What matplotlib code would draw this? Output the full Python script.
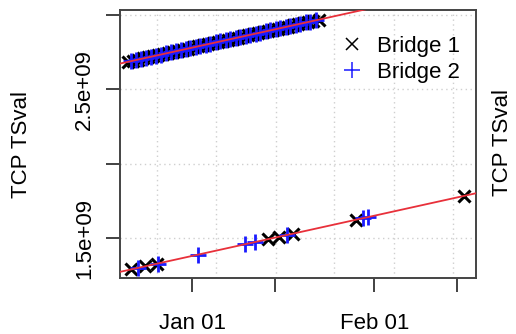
import datetime as dt
import matplotlib
matplotlib.use("Agg")
import matplotlib.pyplot as plt
import matplotlib.dates as mdates
from matplotlib.lines import Line2D
import numpy as np

plt.rcParams['font.family'] = ['Liberation Sans', 'DejaVu Sans']

# Capture start; times are given as days since this date
base = dt.datetime(2014, 1, 1)

# Bridge 1 / Bridge 2, first (dense) capture window: day offset, TSval (x1e9)
b1_upper_day = [-10.9, -10.1, -9.2, -8.4, -7.5, -6.7, -5.8, -5.0, -4.1, -3.3,
                -2.4, -1.6, -0.7, 0.2, 1.0, 1.9, 2.7, 3.6, 4.4, 5.3, 6.1, 7.0,
                7.8, 8.7, 9.5, 10.4, 11.2, 12.1, 12.9, 13.8, 14.6, 15.5, 16.3,
                17.2, 18.0, 18.9, 19.7, 20.6, 21.5]
b1_upper_ts = [2.686, 2.693, 2.701, 2.708, 2.716, 2.723, 2.730, 2.737, 2.745,
               2.752, 2.760, 2.767, 2.775, 2.783, 2.790, 2.798, 2.805, 2.812,
               2.819, 2.827, 2.834, 2.842, 2.849, 2.857, 2.864, 2.872, 2.879,
               2.887, 2.894, 2.901, 2.908, 2.916, 2.923, 2.931, 2.938, 2.946,
               2.953, 2.961, 2.969]
b2_upper_day = [-10.5, -9.6, -8.8, -7.9, -7.1, -6.2, -5.4, -4.5, -3.7, -2.8,
                -2.0, -1.1, -0.3, 0.6, 1.4, 2.3, 3.1, 4.0, 4.8, 5.7, 6.5, 7.4,
                8.2, 9.1, 9.9, 10.8, 11.6, 12.5, 13.3, 14.2, 15.0, 15.9, 16.7,
                17.6, 18.4, 19.3, 20.1, 21.0]
b2_upper_ts = [2.689, 2.697, 2.704, 2.712, 2.719, 2.727, 2.734, 2.742, 2.749,
               2.757, 2.764, 2.771, 2.778, 2.786, 2.793, 2.801, 2.808, 2.816,
               2.823, 2.831, 2.838, 2.846, 2.853, 2.860, 2.867, 2.875, 2.882,
               2.890, 2.897, 2.905, 2.912, 2.920, 2.927, 2.935, 2.942, 2.950,
               2.956, 2.964]

# Second (sparse) capture series
b1_lower_day = [-10.4, -8.0, -6.0, 12.9, 14.8, 17.2, 27.8, 46.2]
b1_lower_ts = [1.289, 1.310, 1.328, 1.493, 1.509, 1.530, 1.623, 1.783]
b2_lower_day = [-9.2, -5.9, 1.0, 9.0, 10.7, 16.2, 29.1, 30.0]
b2_lower_ts = [1.300, 1.329, 1.389, 1.459, 1.473, 1.521, 1.634, 1.642]

x_tick_dates = ["2014-01-01", "2014-01-15", "2014-02-01", "2014-02-15"]
x_tick_labels = ["Jan 01", "", "Feb 01", ""]
y_ticks = [1.5e9, 2.0e9, 2.5e9, 3.0e9]
y_tick_labels = ["1.5e+09", "", "2.5e+09", ""]
grid_days = [-6.0, 4.1, 14.2, 24.2, 34.3, 44.4]


def to_dates(days):
    return [base + dt.timedelta(days=d) for d in days]


def to_vals(ts):
    return np.array(ts) * 1e9


W, H = 516, 334
fig = plt.figure(figsize=(W / 100, H / 100), dpi=100)
ax = fig.add_axes([120 / W, 1 - 278 / H, 356 / W, 268 / H])

xmin = base + dt.timedelta(days=-12.3)
xmax = base + dt.timedelta(days=48.3)
ax.set_xlim(xmin, xmax)
ax.set_ylim(1.2315e9, 3.034e9)

# dotted grid
for g in to_dates(grid_days):
    ax.axvline(g, color="#cfcfcf", lw=1.0, ls=(0, (1, 2.5)), zorder=0)
for yv in y_ticks:
    ax.axhline(yv, color="#cfcfcf", lw=1.0, ls=(0, (1, 2.5)), zorder=0)

mk1 = dict(ls="none", marker="x", color="black", ms=9, mew=2.2)
mk2 = dict(ls="none", marker="+", color="#1a1aff", ms=11, mew=2.0)

ax.plot(to_dates(b1_upper_day), to_vals(b1_upper_ts), **mk1)
ax.plot(to_dates(b1_lower_day), to_vals(b1_lower_ts), **mk1)
ax.plot(to_dates(b2_upper_day), to_vals(b2_upper_ts), **mk2)
ax.plot(to_dates(b2_lower_day), to_vals(b2_lower_ts), **mk2)

# linear clock fits spanning the full axis
xd = np.array([-12.3, 48.3])
for days, ts in [(b1_upper_day + b2_upper_day, b1_upper_ts + b2_upper_ts),
                 (b1_lower_day + b2_lower_day, b1_lower_ts + b2_lower_ts)]:
    k, c = np.polyfit(days, ts, 1)
    ax.plot(to_dates(xd), (k * xd + c) * 1e9, color="#e8303a", lw=1.3, zorder=5)

ax.set_xticks([mdates.date2num(dt.datetime.fromisoformat(s)) for s in x_tick_dates])
ax.set_xticklabels(x_tick_labels)
ax.set_yticks(y_ticks)
ax.set_yticklabels(y_tick_labels, rotation=90, va="center")
ax.tick_params(axis="both", length=10, width=1.3, color="#333333",
               labelsize=16, direction="out")
ax.tick_params(axis="x", pad=15)
ax.tick_params(axis="y", pad=8)
for s in ax.spines.values():
    s.set_color("#444444")
    s.set_linewidth(1.4)

fig.text(22 / W, 1 - 145 / H, "TCP TSval", rotation=90, ha="center",
         va="center", fontsize=16)
fig.text(502 / W, 1 - 143 / H, "TCP TSval", rotation=90, ha="center",
         va="center", fontsize=16)

handles = [Line2D([], [], ls="none", marker="x", color="black", ms=9, mew=1.1),
           Line2D([], [], ls="none", marker="+", color="#1a1aff", ms=12, mew=1.1)]
ax.legend(handles, ["Bridge 1", "Bridge 2"], loc="upper right", frameon=False,
          fontsize=16, handlelength=0.9, handletextpad=0.7, labelspacing=0.2,
          borderaxespad=0.3, bbox_to_anchor=(1.0, 0.96))

fig.savefig("out.png", dpi=100)
